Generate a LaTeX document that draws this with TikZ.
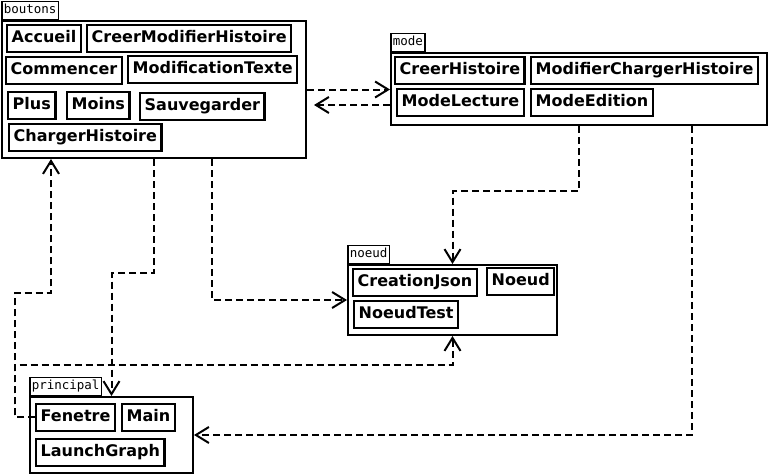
\documentclass[tikz,border=0pt]{standalone}
\usepackage{fontspec}
\setmainfont{DejaVu Sans}
\newfontfamily\pkgfont{DejaVu Sans Mono}
\usetikzlibrary{arrows.meta}
\begin{document}
\begin{tikzpicture}[x=1pt, y=-1pt, line width=2pt,
  cls/.style={draw, line width=2.4pt, anchor=north west, font=\fontsize{16}{18}\selectfont\bfseries, inner xsep=4.5pt, inner ysep=5.5pt, text height=12pt, text depth=3.5pt},
  pkg/.style={draw, line width=2pt, anchor=north west, inner sep=0pt},
  tab/.style={draw, line width=1.5pt, anchor=south west, font=\pkgfont\fontsize{12.5}{14}\selectfont, inner xsep=2pt, inner ysep=3pt, text height=9.5pt, text depth=2.5pt},
  dep/.style={line width=2pt, dash pattern=on 7pt off 4pt, -{Straight Barb[length=13pt,width=16pt,line width=2pt]}}]
\useasboundingbox (0,0) rectangle (768,474);
% packages
\node [pkg, minimum width=304pt, minimum height=137pt] (boutons) at (1,20) {};
\node [tab] at (boutons.north west) {boutons};
\node [pkg, minimum width=376pt, minimum height=72pt] (mode) at (390,52) {};
\node [tab] at (mode.north west) {mode};
\node [pkg, minimum width=209pt, minimum height=70pt] (noeud) at (347,264) {};
\node [tab] at (noeud.north west) {noeud};
\node [pkg, minimum width=163pt, minimum height=76pt] (principal) at (29,396) {};
\node [tab] at (principal.north west) {principal};
% classes
\begin{scope}[every node/.style={cls}]
\node (acc) at (6,24) {Accueil};
\node (cmh) at (86,24) {CreerModifierHistoire};
\node (com) at (5,56) {Commencer};
\node (mtx) at (127,55) {ModificationTexte};
\node (plu) at (7,91) {Plus};
\node (moi) at (66,91) {Moins};
\node (sav) at (139,92) {Sauvegarder};
\node (chh) at (8,123) {ChargerHistoire};
\node (crh) at (394,56) {CreerHistoire};
\node (mch) at (530,56) {ModifierChargerHistoire};
\node (mle) at (396,88) {ModeLecture};
\node (med) at (530,88) {ModeEdition};
\node (cjs) at (352,268) {CreationJson};
\node (noe) at (486,267) {Noeud};
\node (nte) at (353,300) {NoeudTest};
\node (fen) at (35,403) {Fenetre};
\node (mai) at (121,403) {Main};
\node (lgr) at (35,438) {LaunchGraph};
\end{scope}
\coordinate (mlo) at ([yshift=-16pt]mode.west);
\draw [dep] (boutons.east) -- (mode.west |- boutons.east);
\draw [dep] (mlo) -- ([xshift=7pt]boutons.east |- mlo);
\draw [dep] (mode.south) -- ++(0,65) -| (noeud.north);
\draw [dep] ([xshift=58pt]boutons.south) |- (noeud.west);
\draw [dep] (boutons.south) -- ++(0,114) -| (principal.north);
\draw [dep] ([xshift=113pt]mode.south) |- (principal.east);
\draw [dep] (fen.west) -| (15,293) -| ([xshift=-103pt]boutons.south);
\draw [dep] (fen.west) -| (15,365) -| (noeud.south);
\end{tikzpicture}
\end{document}
